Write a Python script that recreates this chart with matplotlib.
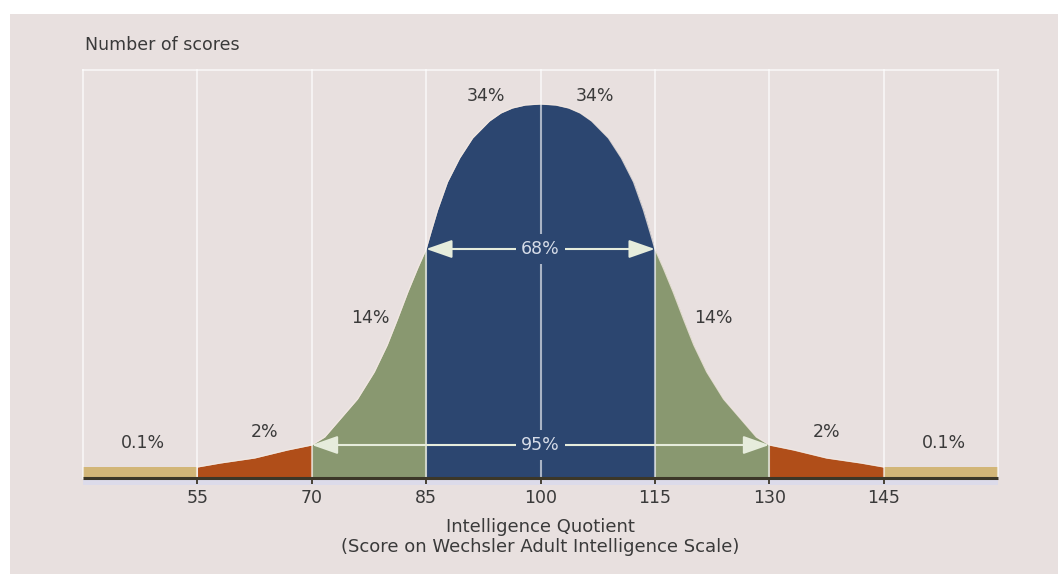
import numpy as np
import matplotlib
matplotlib.use("Agg")
import matplotlib.pyplot as plt
from matplotlib.patches import Rectangle

# bell outline: IQ score vs. relative number of scores
iq = [55, 58, 62.5, 66.8, 70, 71.7, 73.4, 76, 78.2, 79.9, 81.2, 82.6, 83.9, 85,
      85.6, 86.5, 87.8, 89.4, 91.1, 93.3, 94.8, 96.3, 98, 100,
      102, 103.7, 105.2, 106.7, 108.9, 110.6, 112.2, 113.5, 114.4, 115,
      116.1, 117.4, 118.8, 120.1, 121.8, 124, 126.6, 128.3, 130,
      133.2, 137.5, 142, 145]
height = [11, 15, 20, 28, 33, 41, 56, 79, 106, 133, 158, 186, 210, 229,
          245, 268, 296, 320, 340, 357, 365, 370, 373, 374,
          373, 370, 365, 357, 340, 320, 296, 268, 245, 229,
          210, 186, 158, 133, 106, 79, 56, 41, 33,
          28, 20, 15, 11]
tail_height = 11

band_edges = [40, 55, 70, 85, 100, 115, 130, 145, 160]
band_labels = ["0.1%", "2%", "14%", "34%", "34%", "14%", "2%", "0.1%"]
tick_values = [55, 70, 85, 100, 115, 130, 145]
span_labels = ["68%", "95%"]
span_ranges = [(85, 115), (70, 130)]

BG = "#e8e0df"
BLUE = "#2c4670"
GREEN = "#899870"
ORANGE = "#b04e19"
TAN = "#d2b678"
INK = "#3a3a3a"
BASE = "#3c3728"
PALE = "#e6ecdc"
FS = 12.5

band_colors = [TAN, ORANGE, GREEN, BLUE, BLUE, GREEN, ORANGE, TAN]

W, H = 1058, 574
fig = plt.figure(figsize=(W / 100, H / 100), dpi=100, facecolor="white")
fig.patches.append(Rectangle((10 / W, 0), 1 - 10 / W, 1 - 14 / H,
                             transform=fig.transFigure, facecolor=BG,
                             edgecolor="none", zorder=-1))

ax = fig.add_axes([83 / W, 1 - 478 / H, 915 / W, 408 / H])
ax.set_zorder(1)
ax.set_facecolor(BG)
ax.set_xlim(40, 160)
ax.set_ylim(0, 408)
for s in ax.spines.values():
    s.set_visible(False)

x = np.array(iq)
y = np.array(height)

# coloured bands under the curve
for i, c in enumerate(band_colors):
    a, b = band_edges[i], band_edges[i + 1]
    if i in (0, len(band_colors) - 1):
        ax.fill_between([a, b], 0, tail_height, color=c, lw=0, zorder=2)
    else:
        m = (x >= a) & (x <= b)
        ax.fill_between(x[m], 0, y[m], color=c, lw=0, zorder=2)

ax.plot(x, y, color="#f3e9e2", lw=0.9, alpha=0.8, zorder=2.5,
        solid_joinstyle="round")

# white frame and vertical dividers
for v in band_edges:
    ax.plot([v, v], [0, 408], color="white", alpha=0.6, lw=1.5, zorder=3,
            clip_on=False)
ax.plot([40, 160], [408, 408], color="white", alpha=0.6, lw=1.5, zorder=3,
        clip_on=False)

# baseline and thin strip under it
ax.plot([40, 160], [0, 0], color=BASE, lw=2.2, zorder=4, clip_on=False,
        solid_capstyle="butt")
ax.add_patch(Rectangle((40, -0.016), 120, 0.012, transform=ax.get_xaxis_transform(),
                       facecolor="#dcdbea", edgecolor="none", clip_on=False, zorder=1))

ax.set_yticks([])
ax.set_xticks(tick_values)
ax.tick_params(axis="x", length=4, width=1.3, color=BASE, pad=4,
               labelsize=FS, labelcolor=INK)

# percentage of scores in each band
label_pos = [(47.8, 35), (63.8, 46), (77.7, 160), (92.8, 382),
             (107.1, 382), (122.7, 160), (137.5, 46), (152.9, 35)]
for (lx, ly), t in zip(label_pos, band_labels):
    ax.text(lx, ly, t, ha="center", va="center", fontsize=FS, color=INK, zorder=5)

# spans of one and two standard deviations
span_heights = [229, 33]
for (a, b), t, hy in zip(span_ranges, span_labels, span_heights):
    for end in (a, b):
        ax.annotate("", xy=(end, hy), xytext=(100, hy),
                    arrowprops=dict(arrowstyle="-|>,head_length=0.8,head_width=0.28",
                                    color=PALE, lw=1.5, mutation_scale=20,
                                    shrinkA=0, shrinkB=0),
                    zorder=4)
    ax.text(100, hy, t, ha="center", va="center", fontsize=FS, color="#d6dce8",
            zorder=6, bbox=dict(facecolor=BLUE, edgecolor="none", pad=4))

ax.set_xlabel("Intelligence Quotient\n(Score on Wechsler Adult Intelligence Scale)",
              fontsize=13, color=INK, labelpad=8, linespacing=1.15)

fig.text(85 / W, 1 - 45 / H, "Number of scores", ha="left", va="center",
         fontsize=FS, color=INK)

fig.savefig("out.png", dpi=100, facecolor="white")
